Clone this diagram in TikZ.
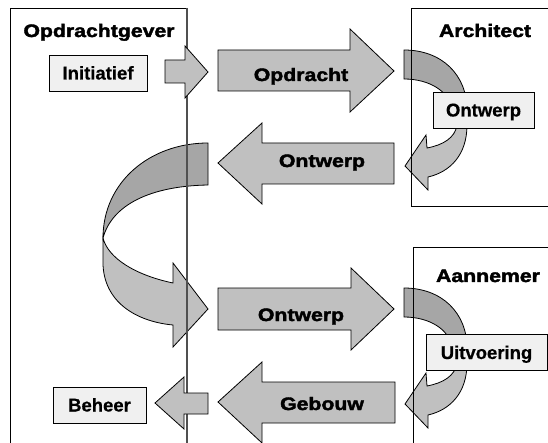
\documentclass[tikz,border=0pt]{standalone}
\usepackage{fontspec}
\setmainfont{Liberation Sans}
\newfontfamily\heavyfont[FakeStretch=1.18,FakeBold=2.2]{Liberation Sans Bold}
\newfontfamily\taskfont[FakeBold=0.6]{Liberation Sans Bold}
\definecolor{arrowgray}{HTML}{C0C0C0}
\definecolor{backgray}{HTML}{A6A6A6}
\definecolor{boxgray}{HTML}{F0F0F0}
\definecolor{linegray}{HTML}{505050}
\begin{document}
\begin{tikzpicture}[x=1pt,y=-1pt]
    \tikzstyle{blockarrow}=[fill=arrowgray, draw=black, line width=0.8pt]
    \tikzstyle{backside}=[fill=backgray, draw=black, line width=0.8pt]
    \tikzstyle{party}=[draw=black, line width=0.8pt]
    \tikzstyle{divider}=[draw=linegray, line width=1.4pt]
    \tikzstyle{heavytext}=[anchor=base, inner sep=0pt, font=\heavyfont\fontsize{18}{20}\selectfont]
    \tikzstyle{task}=[draw=black, fill=boxgray, line width=0.8pt, inner sep=0pt,
        minimum height=36pt, text height=13pt, text depth=0pt,
        font=\taskfont\fontsize{18.5}{20}\selectfont]
    \useasboundingbox (0,0) rectangle (548,443);
    \fill[white] (0,0) rectangle (548,443);
    % curved arrow back to the left side
    \filldraw[blockarrow] (103,238) -- (103,265) .. controls (105,305) and (140,322) .. (173,325)
        -- (173,347) -- (208,309) -- (173,263) -- (173,283)
        .. controls (135,275) and (108,258) .. (103,238) -- cycle;
    \filldraw[backside] (208,143) .. controls (150,143) and (103,182) .. (103,238)
        .. controls (112,205) and (150,186) .. (208,185) -- cycle;
    % parties
    \draw[party] (10,443) -- (10,8) -- (187,8);
    \draw[divider] (187,8) -- (187,443);
    % curved arrows at architect and aannemer
    \foreach \dy in {0,238} {
      \begin{scope}[shift={(0,\dy)}]
        \filldraw[blockarrow] (467,110) -- (467,125) .. controls (467,155) and (450,172) .. (428,177)
            -- (428,190) -- (405,166) -- (426,135) -- (427,148)
            .. controls (443,145) and (455,138) .. (457,125) -- (455,110) -- cycle;
        \filldraw[backside] (404,50) .. controls (442,50) and (467,75) .. (467,110)
            -- (452,110) .. controls (450,92) and (430,79) .. (404,79) -- cycle;
      \end{scope}
    }
    \draw[party] (548,8) -- (411,8) -- (411,206) -- (548,206);
    \draw[party] (548,247) -- (413,247) -- (413,443);
    % straight arrows
    \filldraw[blockarrow] (165,60) -- (185,60) -- (185,46) -- (208,72) -- (185,98) -- (185,83) -- (165,83) -- cycle;
    \filldraw[blockarrow] (218,50) -- (350,50) -- (350,29) -- (394,71) -- (350,112) -- (350,91) -- (218,91) -- cycle;
    \filldraw[blockarrow] (394,143) -- (262,143) -- (262,123) -- (218,163) -- (262,204) -- (262,184) -- (394,184) -- cycle;
    \filldraw[blockarrow] (218,288) -- (351,288) -- (351,268) -- (394,309) -- (351,350) -- (351,330) -- (218,330) -- cycle;
    \filldraw[blockarrow] (395,382) -- (262,382) -- (262,362) -- (218,402) -- (262,443) -- (262,423) -- (395,423) -- cycle;
    \filldraw[blockarrow] (208,393) -- (184,393) -- (184,377) -- (155,403) -- (184,429) -- (184,414) -- (208,414) -- cycle;
    % titles
    \node[heavytext] (opdrachtgever) at (99,37) {Opdrachtgever};
    \node[heavytext] (architect) at (485,37) {Architect};
    \node[heavytext] (aannemer) at (488,282) {Aannemer};
    % boxes
    \node[task, minimum width=98pt] (initiatief) at (98,73) {Initiatief};
    \node[task, minimum width=101pt] (ontwerpbox) at (483.5,110) {Ontwerp};
    \node[task, minimum width=121pt] (uitvoering) at (486.5,352.5) {Uitvoering};
    \node[task, minimum width=93pt] (beheer) at (99.5,405) {Beheer};
    % arrow texts
    \node[heavytext] (opdracht) at (301,81) {Opdracht};
    \node[heavytext] (ontwerpterug) at (322,167) {Ontwerp};
    \node[heavytext] (ontwerpheen) at (301,321) {Ontwerp};
    \node[heavytext] (gebouw) at (322,410) {Gebouw};
\end{tikzpicture}
\end{document}
